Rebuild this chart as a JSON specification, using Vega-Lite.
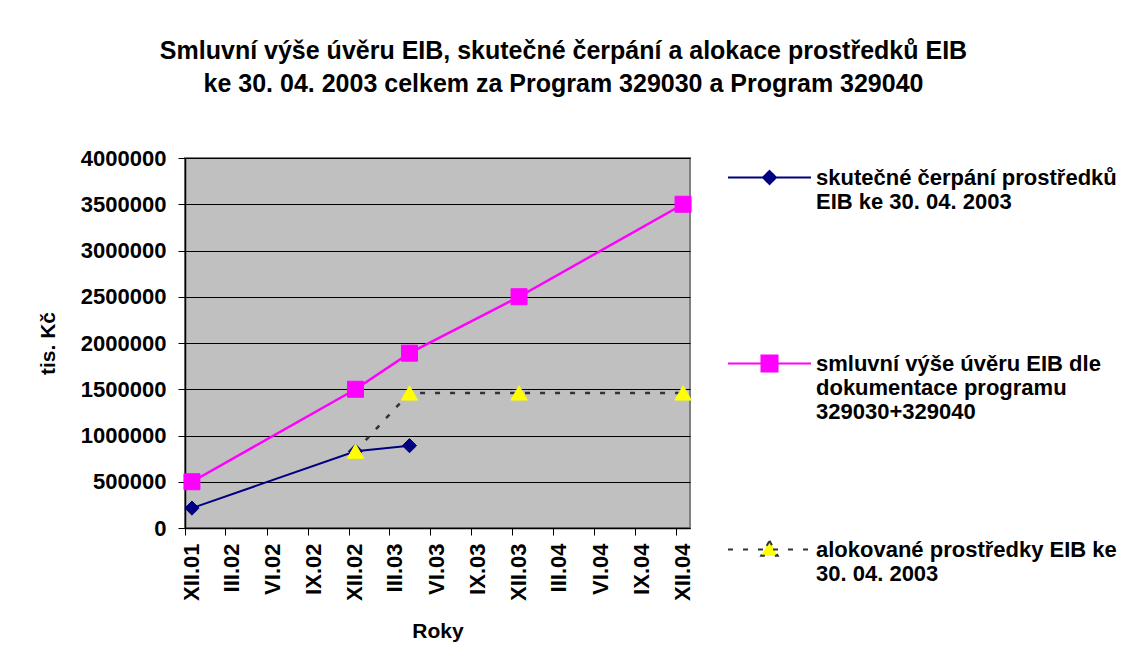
{
  "$schema": "https://vega.github.io/schema/vega-lite/v6.json",
  "width": 505,
  "height": 370,
  "autosize": {"type": "none"},
  "padding": {"left": 185, "top": 158, "right": 438, "bottom": 138},
  "background": "white",
  "title": {
    "text": ["Smluvní výše úvěru EIB, skutečné čerpání a alokace  prostředků EIB", "ke 30. 04. 2003 celkem za Program 329030 a Program 329040"],
    "anchor": "middle",
    "frame": "group",
    "dx": 126,
    "offset": 38,
    "font": "Liberation Sans",
    "fontWeight": "bold",
    "fontSize": 25,
    "lineHeight": 33,
    "color": "black"
  },
  "data": {
    "values": [
      {"date": "2001-12-01", "series": "skutečné čerpání prostředků EIB ke 30. 04. 2003", "value": 215000},
      {"date": "2002-12-01", "series": "skutečné čerpání prostředků EIB ke 30. 04. 2003", "value": 830000},
      {"date": "2003-04-01", "series": "skutečné čerpání prostředků EIB ke 30. 04. 2003", "value": 890000},
      {"date": "2001-12-01", "series": "smluvní výše úvěru EIB dle dokumentace programu 329030+329040", "value": 500000},
      {"date": "2002-12-01", "series": "smluvní výše úvěru EIB dle dokumentace programu 329030+329040", "value": 1500000},
      {"date": "2003-04-01", "series": "smluvní výše úvěru EIB dle dokumentace programu 329030+329040", "value": 1890000},
      {"date": "2003-12-01", "series": "smluvní výše úvěru EIB dle dokumentace programu 329030+329040", "value": 2500000},
      {"date": "2004-12-01", "series": "smluvní výše úvěru EIB dle dokumentace programu 329030+329040", "value": 3500000},
      {"date": "2002-12-01", "series": "alokované prostředky EIB ke 30. 04. 2003", "value": 830000},
      {"date": "2003-04-01", "series": "alokované prostředky EIB ke 30. 04. 2003", "value": 1460000},
      {"date": "2003-12-01", "series": "alokované prostředky EIB ke 30. 04. 2003", "value": 1460000},
      {"date": "2004-12-01", "series": "alokované prostředky EIB ke 30. 04. 2003", "value": 1460000}
    ]
  },
  "encoding": {
    "x": {
      "field": "date",
      "type": "temporal",
      "timeUnit": "utcyearmonth",
      "bandPosition": 0.5,
      "title": "Roky",
      "scale": {
        "type": "utc",
        "domain": [
          {"year": 2001, "month": 12, "date": 1, "utc": true},
          {"year": 2005, "month": 1, "date": 1, "utc": true}
        ],
        "nice": false
      },
      "axis": {
        "values": [
          {"year": 2001, "month": 12, "date": 1, "utc": true},
          {"year": 2002, "month": 3, "date": 1, "utc": true},
          {"year": 2002, "month": 6, "date": 1, "utc": true},
          {"year": 2002, "month": 9, "date": 1, "utc": true},
          {"year": 2002, "month": 12, "date": 1, "utc": true},
          {"year": 2003, "month": 3, "date": 1, "utc": true},
          {"year": 2003, "month": 6, "date": 1, "utc": true},
          {"year": 2003, "month": 9, "date": 1, "utc": true},
          {"year": 2003, "month": 12, "date": 1, "utc": true},
          {"year": 2004, "month": 3, "date": 1, "utc": true},
          {"year": 2004, "month": 6, "date": 1, "utc": true},
          {"year": 2004, "month": 9, "date": 1, "utc": true},
          {"year": 2004, "month": 12, "date": 1, "utc": true}
        ],
        "labelExpr": "['I','II','III','IV','V','VI','VII','VIII','IX','X','XI','XII'][utcmonth(datum.value)] + '.' + utcFormat(datum.value, '%y')",
        "labelAngle": 270,
        "labelAlign": "right",
        "labelBaseline": "middle",
        "labelOffset": 6,
        "labelPadding": 8,
        "tickSize": 7,
        "grid": false,
        "titlePadding": 20,
        "labelOverlap": false,
        "labelFlush": false
      }
    },
    "y": {
      "field": "value",
      "type": "quantitative",
      "title": "tis. Kč",
      "scale": {"domain": [0, 4000000], "nice": false},
      "axis": {
        "values": [0, 500000, 1000000, 1500000, 2000000, 2500000, 3000000, 3500000, 4000000],
        "format": "d",
        "tickSize": 7,
        "labelPadding": 12,
        "titlePadding": 22,
        "grid": true,
        "gridColor": "black",
        "gridWidth": 1,
        "gridOpacity": 1
      }
    }
  },
  "layer": [
    {
      "transform": [{"filter": "datum.series == 'alokované prostředky EIB ke 30. 04. 2003'"}],
      "mark": {"type": "line", "stroke": "#333333", "strokeWidth": 2.5, "strokeDash": [5, 10]}
    },
    {
      "transform": [{"filter": "datum.series == 'skutečné čerpání prostředků EIB ke 30. 04. 2003'"}],
      "mark": {"type": "line", "stroke": "#000080", "strokeWidth": 2}
    },
    {
      "transform": [{"filter": "datum.series == 'smluvní výše úvěru EIB dle dokumentace programu 329030+329040'"}],
      "mark": {"type": "line", "stroke": "#FF00FF", "strokeWidth": 2.5}
    },
    {
      "transform": [{"filter": "datum.series == 'skutečné čerpání prostředků EIB ke 30. 04. 2003'"}],
      "mark": {"type": "point", "shape": "diamond", "filled": true, "fill": "#000080", "stroke": "#000080", "strokeWidth": 1, "size": 200, "opacity": 1}
    },
    {
      "transform": [{"filter": "datum.series == 'alokované prostředky EIB ke 30. 04. 2003'"}],
      "mark": {"type": "point", "shape": "triangle-up", "filled": true, "fill": "#FFFF00", "stroke": "#FFFF00", "strokeWidth": 1, "size": 270, "opacity": 1}
    },
    {
      "transform": [{"filter": "datum.series == 'smluvní výše úvěru EIB dle dokumentace programu 329030+329040'"}],
      "mark": {"type": "point", "shape": "square", "filled": true, "fill": "#FF00FF", "stroke": "#FF00FF", "strokeWidth": 1, "size": 256, "opacity": 1}
    },
    {
      "mark": {"type": "point", "opacity": 0, "strokeWidth": 2},
      "encoding": {
        "shape": {
          "field": "series",
          "type": "nominal",
          "scale": {
            "domain": ["skutečné čerpání prostředků EIB ke 30. 04. 2003", "smluvní výše úvěru EIB dle dokumentace programu 329030+329040", "alokované prostředky EIB ke 30. 04. 2003"],
            "range": ["M-1,0H1M0,-0.157L0.157,0L0,0.157L-0.157,0Z", "M-1,0H1M-0.193,-0.193H0.193V0.193H-0.193Z", "M-1,0H1M0,-0.21L0.2,0.15H-0.2Z"]
          },
          "legend": {
            "title": null,
            "orient": "none",
            "legendX": 542,
            "legendY": -23,
            "symbolSize": 6889,
            "symbolStrokeWidth": 2,
            "symbolOpacity": 1,
            "labelOffset": 4,
            "labelFont": "Liberation Sans",
            "labelFontWeight": "bold",
            "labelFontSize": 22,
            "labelColor": "black",
            "labelLimit": 600,
            "rowPadding": 84,
            "padding": 0,
            "labelExpr": "datum.label == 'skutečné čerpání prostředků EIB ke 30. 04. 2003' ? ['skutečné čerpání prostředků', 'EIB ke 30. 04. 2003', ''] : datum.label == 'smluvní výše úvěru EIB dle dokumentace programu 329030+329040' ? ['smluvní výše úvěru EIB dle', 'dokumentace programu', '329030+329040'] : ['alokované prostředky EIB ke', '30. 04. 2003', '']"
          }
        },
        "fill": {
          "field": "series",
          "type": "nominal",
          "scale": {
            "domain": ["skutečné čerpání prostředků EIB ke 30. 04. 2003", "smluvní výše úvěru EIB dle dokumentace programu 329030+329040", "alokované prostředky EIB ke 30. 04. 2003"],
            "range": ["#000080", "#FF00FF", "#FFFF00"]
          },
          "legend": {"title": null}
        },
        "stroke": {
          "field": "series",
          "type": "nominal",
          "scale": {
            "domain": ["skutečné čerpání prostředků EIB ke 30. 04. 2003", "smluvní výše úvěru EIB dle dokumentace programu 329030+329040", "alokované prostředky EIB ke 30. 04. 2003"],
            "range": ["#000080", "#FF00FF", "#333333"]
          },
          "legend": {"title": null}
        },
        "strokeDash": {
          "field": "series",
          "type": "nominal",
          "scale": {
            "domain": ["skutečné čerpání prostředků EIB ke 30. 04. 2003", "smluvní výše úvěru EIB dle dokumentace programu 329030+329040", "alokované prostředky EIB ke 30. 04. 2003"],
            "range": [[1, 0], [1, 0], [5, 10]]
          },
          "legend": {"title": null}
        }
      }
    }
  ],
  "config": {
    "view": {"fill": "#C0C0C0", "stroke": "#808080", "strokeWidth": 2},
    "axis": {
      "labelFont": "Liberation Sans",
      "labelFontWeight": "bold",
      "labelFontSize": 22,
      "labelColor": "black",
      "titleFont": "Liberation Sans",
      "titleFontWeight": "bold",
      "titleFontSize": 21,
      "titleColor": "black",
      "domainColor": "black",
      "domainWidth": 1.5,
      "tickColor": "black",
      "tickWidth": 1
    }
  }
}
